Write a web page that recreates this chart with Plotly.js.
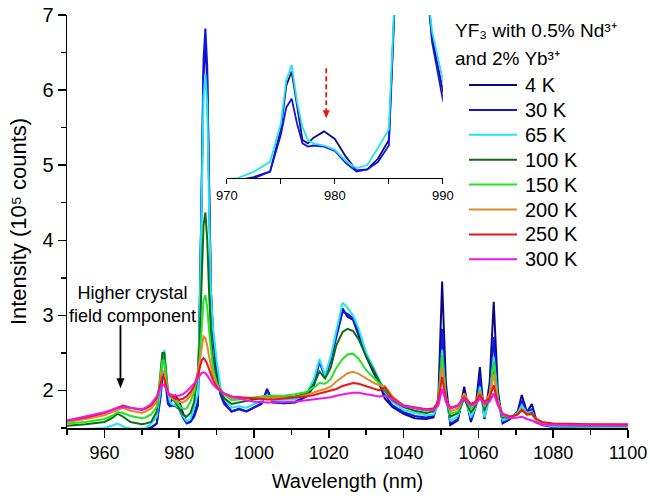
<!DOCTYPE html>
<html><head><meta charset="utf-8">
<script src="https://cdn.plot.ly/plotly-3.0.1.min.js"></script>
<style>html,body{margin:0;padding:0;background:#fff}#chart{width:650px;height:498px}</style>
</head><body><div id="chart"></div>
<script>
// Wavelength grid (nm)
const wavelength = [950,955,960,962,963.5,965,967,970,971,972.5,
974,975,975.5,976,976.5,977,977.5,978,979,980,
981,982,983,984,985,985.5,986,986.5,987,987.5,
988,988.5,989,990,991,992,994,996,998,1000,
1002,1003.5,1005,1008,1011,1014,1016,1017.5,1019,1020.5,
1022,1023.7,1025,1026.5,1028,1030,1032,1033.5,1035,1037,
1040,1043,1046,1048,1049.3,1050.3,1051.3,1052.5,1054.5,1056.2,
1058,1059.3,1060.4,1061.6,1063,1064.1,1065.2,1066.5,1068.5,1070.5,
1071.6,1073,1074.3,1075.5,1077,1080,1090,1100];

// Intensity (10^5 counts)
const I_4K = [1.45,1.45,1.46,1.47,1.48,1.47,1.46,1.47,1.48,1.51,
1.56,1.95,2.35,2.48,2.15,1.85,1.82,1.87,1.93,1.86,
1.70,1.57,1.58,1.68,1.85,3.05,4.6,6.2,6.65,6.1,
4.5,3.3,2.8,2.3,2.0,1.85,1.72,1.75,1.72,1.77,
1.82,2.02,1.84,1.83,1.84,1.92,2.05,2.40,2.18,2.40,
2.76,3.09,2.98,2.94,2.74,2.45,2.23,2.09,1.89,1.78,
1.69,1.63,1.62,1.64,1.9,3.45,2.1,1.54,1.6,2.05,
1.58,1.8,2.31,1.62,2.1,3.18,2.0,1.56,1.62,1.72,
1.94,1.71,1.82,1.6,1.55,1.52,1.51,1.51];
const I_30K = [1.44,1.44,1.45,1.46,1.47,1.46,1.45,1.46,1.47,1.5,
1.56,1.9,2.15,2.23,2.0,1.82,1.79,1.8,1.79,1.75,
1.64,1.56,1.58,1.65,1.8,3.0,4.7,6.4,6.82,6.3,
4.7,3.3,2.75,2.22,1.95,1.82,1.72,1.76,1.72,1.78,
1.83,2.0,1.85,1.83,1.85,1.93,2.1,2.38,2.18,2.4,
2.72,3.05,3.02,2.96,2.78,2.47,2.27,2.13,1.95,1.8,
1.71,1.66,1.64,1.66,1.85,2.82,1.95,1.56,1.62,1.98,
1.6,1.78,2.18,1.62,1.95,2.71,1.9,1.57,1.62,1.7,
1.87,1.7,1.75,1.58,1.54,1.51,1.5,1.5];
const I_65K = [1.47,1.48,1.5,1.53,1.56,1.52,1.49,1.49,1.5,1.56,
1.65,2.0,2.4,2.54,2.2,1.97,1.85,1.82,1.8,1.76,
1.66,1.59,1.62,1.78,1.95,3.1,4.5,5.9,6.21,5.8,
4.4,3.3,2.85,2.4,2.05,1.9,1.77,1.79,1.77,1.82,
1.86,1.9,1.87,1.87,1.88,1.95,2.15,2.42,2.2,2.45,
2.8,3.17,3.1,3.0,2.82,2.5,2.3,2.15,1.98,1.85,
1.74,1.7,1.67,1.68,1.82,2.54,1.9,1.6,1.66,1.92,
1.64,1.78,2.05,1.64,1.9,2.45,1.9,1.6,1.64,1.7,
1.8,1.7,1.72,1.6,1.55,1.52,1.51,1.51];
const I_100K = [1.53,1.55,1.58,1.63,1.69,1.65,1.58,1.55,1.56,1.58,
1.72,2.2,2.5,2.5,2.2,1.98,1.93,1.9,1.84,1.76,
1.68,1.65,1.7,1.85,2.25,2.7,3.5,4.2,4.37,4.0,
3.3,2.75,2.45,2.15,1.98,1.9,1.82,1.84,1.85,1.88,
1.9,1.93,1.92,1.91,1.92,1.96,2.08,2.25,2.16,2.3,
2.6,2.78,2.82,2.79,2.68,2.45,2.27,2.12,2.0,1.87,
1.78,1.73,1.7,1.72,1.85,2.47,1.9,1.65,1.7,1.89,
1.71,1.8,1.98,1.74,1.9,2.31,1.85,1.64,1.64,1.68,
1.74,1.68,1.7,1.6,1.56,1.54,1.53,1.53];
const I_150K = [1.56,1.58,1.62,1.66,1.71,1.7,1.66,1.63,1.64,1.68,
1.78,2.15,2.4,2.4,2.15,1.97,1.93,1.9,1.86,1.8,
1.75,1.76,1.85,1.98,2.2,2.45,2.85,3.2,3.27,3.1,
2.8,2.5,2.3,2.1,2.0,1.95,1.87,1.88,1.89,1.9,
1.92,1.93,1.93,1.93,1.95,1.98,2.04,2.1,2.09,2.15,
2.3,2.42,2.48,2.49,2.42,2.27,2.17,2.1,2.02,1.9,
1.8,1.76,1.73,1.74,1.85,2.47,1.92,1.69,1.72,1.92,
1.76,1.83,2.0,1.78,1.95,2.38,1.85,1.66,1.64,1.68,
1.75,1.68,1.68,1.6,1.56,1.54,1.53,1.53];
const I_200K = [1.58,1.62,1.67,1.71,1.75,1.77,1.73,1.7,1.72,1.76,
1.85,2.1,2.26,2.25,2.08,1.96,1.92,1.9,1.87,1.85,
1.84,1.87,1.93,2.05,2.25,2.4,2.6,2.72,2.7,2.6,
2.45,2.3,2.2,2.07,2.0,1.95,1.9,1.9,1.9,1.9,
1.9,1.9,1.9,1.9,1.91,1.94,1.98,2.0,2.02,2.05,
2.12,2.18,2.23,2.25,2.22,2.16,2.1,2.07,2.06,1.92,
1.8,1.77,1.75,1.76,1.85,2.31,1.9,1.72,1.76,1.96,
1.8,1.85,1.98,1.82,1.95,2.22,1.85,1.68,1.65,1.68,
1.76,1.69,1.69,1.61,1.57,1.55,1.54,1.54];
const I_250K = [1.6,1.64,1.7,1.74,1.78,1.8,1.77,1.74,1.76,1.8,
1.9,2.08,2.18,2.16,2.05,1.97,1.94,1.92,1.89,1.88,
1.89,1.92,1.98,2.06,2.2,2.3,2.4,2.43,2.4,2.35,
2.27,2.2,2.14,2.05,2.0,1.96,1.92,1.91,1.9,1.89,
1.88,1.88,1.88,1.89,1.9,1.92,1.94,1.96,1.97,1.99,
2.02,2.06,2.08,2.1,2.09,2.06,2.02,2.0,2.04,1.9,
1.8,1.77,1.75,1.76,1.85,2.18,1.88,1.77,1.8,1.91,
1.82,1.85,1.94,1.85,1.9,2.07,1.82,1.69,1.65,1.68,
1.74,1.68,1.69,1.62,1.58,1.56,1.55,1.55];
const I_300K = [1.6,1.65,1.71,1.74,1.77,1.78,1.77,1.75,1.77,1.82,
1.92,2.03,2.08,2.07,2.02,1.97,1.95,1.94,1.93,1.93,
1.95,1.99,2.04,2.09,2.16,2.2,2.23,2.24,2.23,2.2,
2.16,2.12,2.08,2.03,1.99,1.96,1.92,1.89,1.87,1.85,
1.84,1.84,1.84,1.84,1.85,1.87,1.88,1.89,1.9,1.91,
1.93,1.95,1.96,1.97,1.97,1.95,1.93,1.92,1.93,1.88,
1.79,1.76,1.74,1.74,1.8,2.02,1.85,1.76,1.79,1.89,
1.8,1.82,1.89,1.82,1.85,1.96,1.8,1.68,1.63,1.64,
1.65,1.62,1.6,1.57,1.55,1.54,1.53,1.53];

const seriesNames = ['4 K','30 K','65 K','100 K','150 K','200 K','250 K','300 K'];
const seriesValues = [I_4K, I_30K, I_65K, I_100K, I_150K, I_200K, I_250K, I_300K];
const seriesColors = ['#0a0a80','#1414e6','#22e6f0','#0c6e10','#22e622','#e08a28','#f01414','#f014f0'];
const insetSeries = [0, 1, 2];

const xTicks = [960,980,1000,1020,1040,1060,1080,1100];
const yTicks = [2,3,4,5,6,7];
const insetTicks = [970,980,990];

const FONT = 'Liberation Sans, Arial, Helvetica, sans-serif';

const traces = [];
seriesNames.forEach((n, i) => {
  traces.push({
    x: wavelength, y: seriesValues[i], type: 'scatter', mode: 'lines', name: n,
    line: {color: seriesColors[i], width: 2}, xaxis: 'x', yaxis: 'y', showlegend: false
  });
});
insetSeries.forEach(i => {
  traces.push({
    x: wavelength, y: seriesValues[i], type: 'scatter', mode: 'lines', name: seriesNames[i],
    line: {color: seriesColors[i], width: 1.8}, xaxis: 'x2', yaxis: 'y2', showlegend: false
  });
});

// Legend drawn as line samples + labels (paper coordinates)
const legX0 = 0.7166, legX1 = 0.8021, legTextX = 0.8128, legTop = 0.8305, legStep = 0.0603;
const shapes = [];
const annotations = [];
seriesNames.forEach((n, i) => {
  const yy = legTop - legStep * i;
  shapes.push({type: 'line', xref: 'paper', yref: 'paper', x0: legX0, x1: legX1, y0: yy, y1: yy,
    line: {color: seriesColors[i], width: 2}});
  annotations.push({xref: 'paper', yref: 'paper', x: legTextX, y: yy, xanchor: 'left', yanchor: 'middle',
    text: n, showarrow: false, font: {family: FONT, size: 20, color: '#000'}});
});

// Arrows
shapes.push({type: 'line', xref: 'x', yref: 'y', x0: 964.3, x1: 964.3, y0: 2.87, y1: 2.12,
  line: {color: '#000', width: 1.8}});
shapes.push({type: 'path', xref: 'x', yref: 'y', xsizemode: 'pixel', ysizemode: 'pixel',
  xanchor: 964.3, yanchor: 2.03, path: 'M-4,10 L0,0 L4,10 Z', fillcolor: '#000', line: {width: 0}});
shapes.push({type: 'line', xref: 'x2', yref: 'y2', x0: 979.2, x1: 979.2, y0: 2.51, y1: 2.12,
  line: {color: '#f01414', width: 1.8, dash: '5px,3px'}});
shapes.push({type: 'path', xref: 'x2', yref: 'y2', xsizemode: 'pixel', ysizemode: 'pixel',
  xanchor: 979.2, yanchor: 2.05, path: 'M-3.5,8 L0,0 L3.5,8 Z', fillcolor: '#f01414', line: {width: 0}});

annotations.push(
  {xref: 'paper', yref: 'paper', x: 0.688, y: 0.963, xanchor: 'left', yanchor: 'middle',
   text: 'YF\u2083 with 0.5% Nd\u00b3\u207a', showarrow: false,
   font: {family: FONT, size: 19, color: '#000'}},
  {xref: 'paper', yref: 'paper', x: 0.688, y: 0.895, xanchor: 'left', yanchor: 'middle',
   text: 'and 2% Yb\u00b3\u207a', showarrow: false,
   font: {family: FONT, size: 19, color: '#000'}},
  {xref: 'x', yref: 'y', x: 967.4, y: 3.14, xanchor: 'center', yanchor: 'middle',
   text: 'Higher crystal<br>field component', showarrow: false,
   font: {family: FONT, size: 18, color: '#000'}}
);

const layout = {
  width: 650, height: 498,
  margin: {l: 67, r: 22, t: 15, b: 70},
  paper_bgcolor: '#fff', plot_bgcolor: 'rgba(0,0,0,0)',
  font: {family: FONT, color: '#000', size: 18},
  showlegend: false,
  xaxis: {
    domain: [0, 1], range: [950, 1100], anchor: 'y',
    tickvals: xTicks, ticks: 'outside', ticklen: 8, tickwidth: 1.5, tickcolor: '#000',
    minor: {dtick: 10, tick0: 950, ticks: 'outside', ticklen: 5, tickwidth: 1.5, tickcolor: '#000'},
    showline: true, linecolor: '#000', linewidth: 1.5,
    showgrid: false, zeroline: false, mirror: false,
    tickfont: {family: FONT, size: 18},
    title: {text: 'Wavelength (nm)', font: {family: FONT, size: 20}, standoff: 12}
  },
  yaxis: {
    domain: [0, 1], range: [1.5, 7], anchor: 'x',
    tickvals: yTicks, ticks: 'outside', ticklen: 8, tickwidth: 1.5, tickcolor: '#000',
    minor: {dtick: 0.5, tick0: 1.5, ticks: 'outside', ticklen: 5, tickwidth: 1.5, tickcolor: '#000'},
    showline: true, linecolor: '#000', linewidth: 1.5,
    showgrid: false, zeroline: false,
    tickfont: {family: FONT, size: 20},
    title: {text: 'Intensity (10\u2075 counts)', font: {family: FONT, size: 22}, standoff: 9}
  },
  xaxis2: {
    domain: [0.285, 0.670], range: [970, 990], anchor: 'y2',
    tickvals: insetTicks, ticks: 'outside', ticklen: 5, tickwidth: 1.2, tickcolor: '#000',
    minor: {dtick: 5, tick0: 970, ticks: 'outside', ticklen: 5, tickwidth: 1.2, tickcolor: '#000'},
    showline: true, linecolor: '#000', linewidth: 1.2,
    showgrid: false, zeroline: false,
    tickfont: {family: FONT, size: 13}
  },
  yaxis2: {
    domain: [0.605, 1.0], range: [1.5, 3.0], anchor: 'x2', visible: false
  },
  shapes: shapes,
  annotations: annotations
};

Plotly.newPlot('chart', traces, layout, {displayModeBar: false, staticPlot: true});
</script>
</body></html>
